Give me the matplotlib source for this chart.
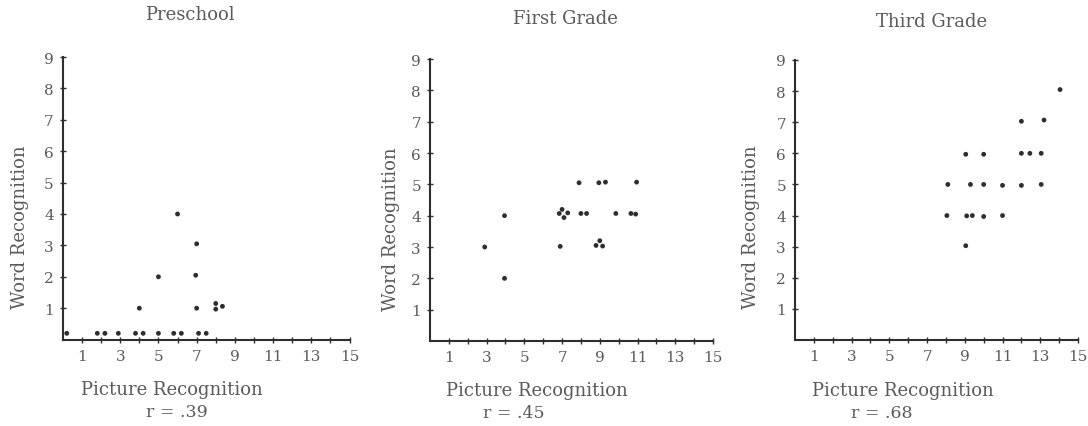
import matplotlib.pyplot as plt

# Data (picture recognition vs word recognition)
pre_x = [0.2, 1.8, 2.2, 2.9, 3.8, 4.2, 5.0, 5.8, 6.2, 7.1, 7.5,
         4.0, 5.0, 6.0, 7.0, 6.95, 7.0, 8.0, 8.0, 8.35]
pre_y = [0.2, 0.2, 0.2, 0.2, 0.2, 0.2, 0.2, 0.2, 0.2, 0.2, 0.2,
         1.0, 2.0, 4.0, 3.05, 2.05, 1.0, 1.15, 0.97, 1.06]

first_x = [2.9, 3.95, 3.95, 7.9, 8.95, 9.3, 10.95,
           6.85, 7.0, 7.3, 7.1, 6.9, 8.0, 8.3, 9.85, 10.65, 10.9,
           8.8, 9.0, 9.15]
first_y = [3.0, 4.0, 2.0, 5.05, 5.05, 5.07, 5.07,
           4.07, 4.2, 4.09, 3.94, 3.02, 4.07, 4.07, 4.07, 4.07, 4.05,
           3.05, 3.2, 3.03]

third_x = [12.0, 13.2, 9.05, 10.0, 12.0, 12.45, 13.05,
           8.1, 9.3, 10.0, 11.0, 12.0, 13.05,
           8.05, 9.1, 9.4, 10.0, 11.0, 9.05, 14.05]
third_y = [7.03, 7.07, 5.97, 5.97, 6.0, 6.0, 6.0,
           5.0, 5.0, 5.0, 4.97, 4.97, 5.0,
           4.0, 3.99, 4.0, 3.97, 4.0, 3.03, 8.05]

titles = ['Preschool', 'First Grade', 'Third Grade']
r_values = ['r = .39', 'r = .45', 'r = .68']
panels = [(pre_x, pre_y), (first_x, first_y), (third_x, third_y)]

W, H = 1088, 427
# axes boxes in pixels: x at 0, x at 15, y at 0, y at 9
boxes = [(62.9, 349.5, 340.6, 58), (430, 713, 342, 60), (795, 1078, 341, 61)]
title_pos = [(0.444, 1.152), (0.477, 1.145), (0.483, 1.14)]
xlab_pos = [(0.38, -0.175), (0.378, -0.172), (0.38, -0.18)]
r_pos = [(0.396, -0.256), (0.297, -0.252), (0.307, -0.26)]
ylab_pos = [(-0.148, 0.40), (-0.138, 0.40), (-0.156, 0.405)]

ink = '#2e2e2e'
txt = '#5a5a5a'
plt.rcParams['font.family'] = ['DejaVu Serif']

fig = plt.figure(figsize=(W / 100, H / 100), dpi=100)

for i, (xs, ys) in enumerate(panels):
    x0, x15, y0, y9 = boxes[i]
    ax = fig.add_axes([x0 / W, 1 - y0 / H, (x15 - x0) / W, (y0 - y9) / H])
    ax.scatter(xs, ys, s=12, color=ink, edgecolors='none', zorder=3, clip_on=False)
    ax.set_xlim(0, 15)
    ax.set_ylim(0, 9)
    ax.set_xticks(range(1, 16))
    ax.set_xticklabels([str(v) if v % 2 == 1 else '' for v in range(1, 16)])
    ax.set_yticks(range(1, 10))
    for s in ['top', 'right']:
        ax.spines[s].set_visible(False)
    for s in ['left', 'bottom']:
        ax.spines[s].set_color(ink)
        ax.spines[s].set_linewidth(1.5)
    ax.tick_params(direction='inout', length=5, width=1, color=ink,
                   labelcolor=txt, labelsize=11, pad=4)
    ax.text(*title_pos[i], titles[i], transform=ax.transAxes, ha='center',
            va='center', fontsize=13, color=txt)
    ax.text(*xlab_pos[i], 'Picture Recognition', transform=ax.transAxes,
            ha='center', va='center', fontsize=13, color=txt)
    ax.text(*r_pos[i], r_values[i], transform=ax.transAxes,
            ha='center', va='center', fontsize=12.5, color=txt)
    ax.text(*ylab_pos[i], 'Word Recognition', transform=ax.transAxes,
            ha='center', va='center', rotation=90, fontsize=13, color=txt)

fig.savefig('out.png', dpi=100)
